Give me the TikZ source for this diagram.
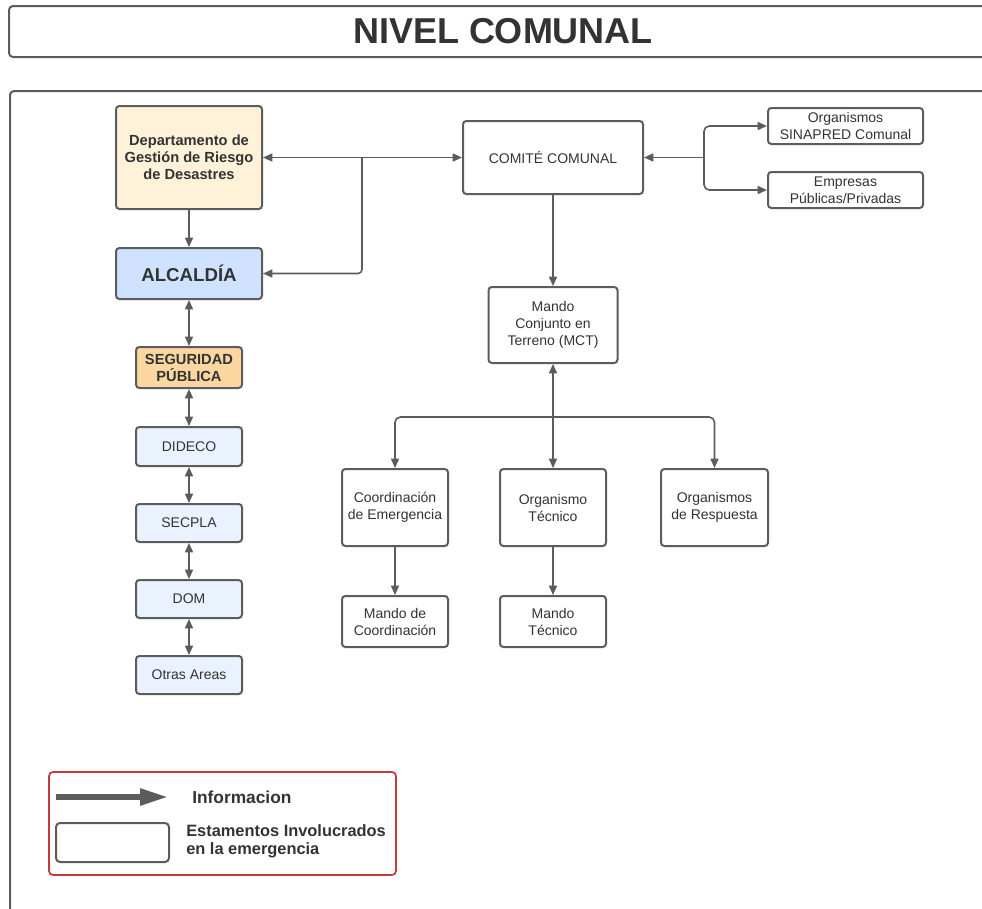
\documentclass[tikz,border=0pt]{standalone}
\usepackage{fontspec}
\setmainfont{Liberation Sans}
\usetikzlibrary{arrows.meta}
\definecolor{stroke}{HTML}{5C5C5C}
\definecolor{txt}{HTML}{333333}
\definecolor{cream}{HTML}{FFF2D8}
\definecolor{alcblue}{HTML}{CFE2FF}
\definecolor{segor}{HTML}{FAD7A1}
\definecolor{paleblue}{HTML}{EAF2FF}
\definecolor{legred}{HTML}{C63A3C}
\tikzset{
  box/.style={draw=stroke, line width=1.5pt, rounded corners=2.5pt, align=center,
    inner sep=0pt, text=txt, font=\fontsize{10.5}{12.75}\selectfont},
  sz/.style 2 args={minimum width=#1*0.75pt, minimum height=#2*0.75pt},
  bfont/.style={font=\fontsize{11}{12.75}\selectfont\bfseries},
  arr/.style={draw=stroke, line width=1.2pt, -{Triangle[length=7pt,width=6pt]}},
  darr/.style={draw=stroke, line width=1.2pt, {Triangle[length=7pt,width=6pt]}-{Triangle[length=7pt,width=6pt]}},
  frame/.style={draw=stroke, line width=1.5pt, rounded corners=3pt},
}
\begin{document}
\begin{tikzpicture}[x=0.75pt,y=-0.75pt]
\useasboundingbox (0,0) rectangle (982,908);
\clip (0,0) rectangle (982,908);
\fill[white] (0,0) rectangle (982,908);
% title frame
\draw[frame] (9,6) rectangle (1010,57);
\node[text=txt, font=\fontsize{27}{30}\selectfont\bfseries] (title) at (503,31) {NIVEL COMUNAL};
% main frame
\draw[frame] (10,91) rectangle (1010,1000);

% left column
\node[box, sz={146}{103}, fill=cream, bfont] (dgrd) at (189,157.5) {Departamento de\\Gestión de Riesgo\\de Desastres};
\node[box, sz={146}{51}, fill=alcblue, font=\fontsize{14}{16}\selectfont\bfseries] (alc) at (189,273.5) {ALCALDÍA};
\node[box, sz={106}{41}, fill=segor, bfont] (seg) at (189,367.5) {SEGURIDAD\\PÚBLICA};
\node[box, sz={106}{39}, fill=paleblue] (dideco) at (189,446.5) {DIDECO};
\node[box, sz={106}{38}, fill=paleblue] (secpla) at (189,523) {SECPLA};
\node[box, sz={106}{38}, fill=paleblue] (dom) at (189,599) {DOM};
\node[box, sz={106}{38}, fill=paleblue] (otras) at (189,675) {Otras Areas};

% right part
\node[box, sz={180}{73}, fill=white] (comite) at (553,157.5) {COMITÉ COMUNAL};
\node[box, sz={155}{36}, fill=white] (sina) at (845.5,126) {Organismos\\SINAPRED Comunal};
\node[box, sz={155}{36}, fill=white] (emp) at (845.5,190) {Empresas\\Públicas/Privadas};
\node[box, sz={129}{76}, fill=white] (mct) at (553,325) {Mando\\Conjunto en\\Terreno (MCT)};
\node[box, sz={106}{77}, fill=white] (ce) at (395,507.5) {Coordinación\\de Emergencia};
\node[box, sz={106}{77}, fill=white] (ot) at (553,507.5) {Organismo\\Técnico};
\node[box, sz={107}{77}, fill=white] (ores) at (714.5,507.5) {Organismos\\de Respuesta};
\node[box, sz={106}{51}, fill=white] (mc) at (395,621.5) {Mando de\\Coordinación};
\node[box, sz={106}{51}, fill=white] (mt) at (553,621.5) {Mando\\Técnico};

% connectors left
\draw[darr] (dgrd.east) -- (comite.west);
\coordinate (j1) at (362,157.5);
\draw[arr, rounded corners=3pt] (j1) |- (alc.east);
\draw[arr] (dgrd.south) -- (alc.north);
\draw[darr] (alc.south) -- (seg.north);
\draw[darr] (seg.south) -- (dideco.north);
\draw[darr] (dideco.south) -- (secpla.north);
\draw[darr] (secpla.south) -- (dom.north);
\draw[darr] (dom.south) -- (otras.north);

% connectors right
\coordinate (j2) at (704,157.5);
\draw[arr] (j2) -- (comite.east);
\draw[arr, rounded corners=4pt] (j2) |- (sina.west);
\draw[arr, rounded corners=4pt] (j2) |- (emp.west);
\draw[arr] (comite.south) -- (mct.north);
\coordinate (j3) at (553,417);
\draw[arr] (j3) -- (mct.south);
\draw[arr] (j3) -- (ot.north);
\draw[arr, rounded corners=4pt] (j3) -| (ce.north);
\draw[arr, rounded corners=4pt] (j3) -| (ores.north);
\draw[arr] (ce.south) -- (mc.north);
\draw[arr] (ot.south) -- (mt.north);

% legend
\node[draw=legred, line width=1.3pt, rounded corners=3pt, sz={347}{103}, inner sep=0pt] (legend) at (222.5,823.5) {};
\coordinate (la1) at (56,797);
\coordinate (la2) at (168,797);
\draw[draw=stroke, line width=4.2pt, -{Triangle[length=21pt,width=12pt]}] (la1) -- (la2);
\node[anchor=west, text=txt, font=\fontsize{13}{15}\selectfont\bfseries, inner sep=0pt] (linfo) at (192,797) {Informacion};
\node[draw=stroke, line width=1.5pt, rounded corners=3pt, sz={113}{39}, inner sep=0pt] (lbox) at (112.5,842.5) {};
\node[anchor=west, align=left, text=txt, font=\fontsize{12.3}{13.5}\selectfont\bfseries, inner sep=0pt] (lest) at (186,841) {Estamentos Involucrados\\en la emergencia};
\end{tikzpicture}
\end{document}
